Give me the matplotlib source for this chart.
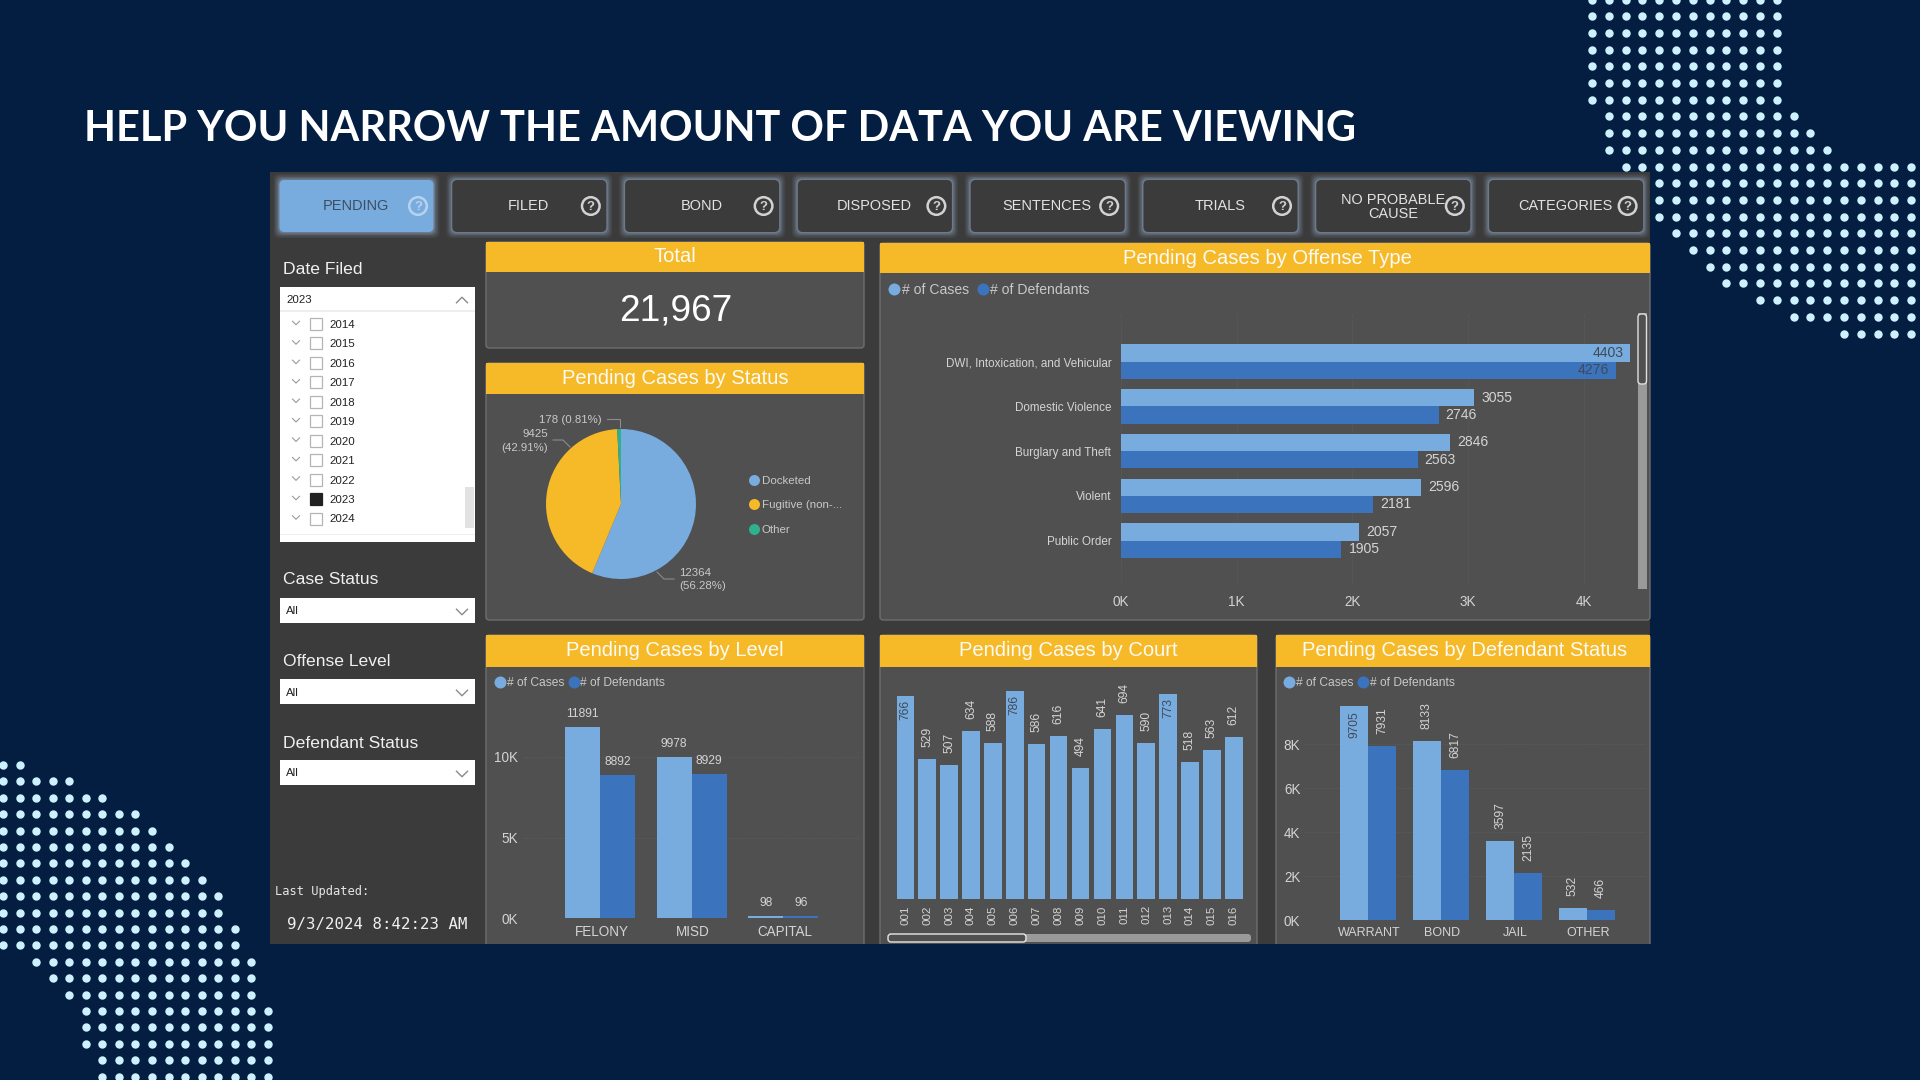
"""Pending cases dashboard slide, laid out in screen pixels."""
import matplotlib
matplotlib.use("Agg")
import matplotlib.pyplot as plt
from matplotlib.patches import FancyBboxPatch, Rectangle, Circle
from matplotlib.ticker import FuncFormatter

plt.rcParams["font.family"] = ["Liberation Sans", "DejaVu Sans"]

W, H = 1920, 1080

NAVY = "#041e42"
PANEL = "#3b3b3b"
CARD = "#505050"
EDGE = "#6e6e6e"
GOLD = "#f6b928"
LIGHT = "#78acdf"
DARK = "#3b74bd"
TEAL = "#2fb08e"
TXT = "#d4d4d4"
DOT = "#cdf1ff"
GRID = "#5e5e5e"

# data
BUTTONS = ["PENDING", "FILED", "BOND", "DISPOSED", "SENTENCES", "TRIALS",
           "NO PROBABLE\nCAUSE", "CATEGORIES"]
YEARS = ["2014", "2015", "2016", "2017", "2018", "2019", "2020", "2021",
         "2022", "2023", "2024"]
TOTAL = "21,967"

STATUS_NAMES = ["Docketed", "Fugitive (non-...", "Other"]
STATUS_VALUES = [12364, 9425, 178]

OFFENSES = ["DWI, Intoxication, and Vehicular", "Domestic Violence",
            "Burglary and Theft", "Violent", "Public Order"]
OFFENSE_CASES = [4403, 3055, 2846, 2596, 2057]
OFFENSE_DEFS = [4276, 2746, 2563, 2181, 1905]

LEVELS = ["FELONY", "MISD", "CAPITAL"]
LEVEL_CASES = [11891, 9978, 98]
LEVEL_DEFS = [8892, 8929, 96]

COURTS = ["001", "002", "003", "004", "005", "006", "007", "008", "009",
          "010", "011", "012", "013", "014", "015", "016"]
COURT_CASES = [766, 529, 507, 634, 588, 786, 586, 616, 494, 641, 694, 590,
               773, 518, 563, 612]

DEF_STATUS = ["WARRANT", "BOND", "JAIL", "OTHER"]
DEF_CASES = [9705, 8133, 3597, 532]
DEF_DEFS = [7931, 6817, 2135, 466]


def pt(px):
    return px * 0.72


fig = plt.figure(figsize=(W / 100, H / 100), dpi=100, facecolor=NAVY)
bg = fig.add_axes([0, 0, 1, 1], zorder=0)
bg.set_xlim(0, W)
bg.set_ylim(H, 0)
bg.axis("off")


def rect(x0, y0, x1, y1, color, z=3, **kw):
    bg.add_patch(Rectangle((x0, y0), x1 - x0, y1 - y0, facecolor=color,
                           edgecolor=kw.pop("edgecolor", "none"), zorder=z, **kw))


def label(x, y, s, px=14, color=TXT, ha="left", va="center", **kw):
    # va=center sits about a pixel high because of the descent
    return bg.text(x, y + 1, s, fontsize=pt(px), color=color, ha=ha, va=va, zorder=6, **kw)


def chart_ax(x0, y0, x1, y1):
    ax = fig.add_axes([x0 / W, 1 - y1 / H, (x1 - x0) / W, (y1 - y0) / H], zorder=2)
    ax.patch.set_visible(False)
    for s in ax.spines.values():
        s.set_visible(False)
    ax.tick_params(length=0)
    return ax


# ── corner dot patterns ────────────────────────────────────────────────
def dots(x0, dx, y0, dy, spans):
    xs, ys = [], []
    for r, (a, b) in enumerate(spans):
        for c in range(a, b + 1):
            xs.append(x0 + c * dx)
            ys.append(y0 + r * dy)
    bg.scatter(xs, ys, s=pt(8.4) ** 2, color=DOT, linewidths=0, zorder=1)


dots(1592, 16.8, -0.5, 16.7,
     [(0, 11)] * 7 + [(1, 12), (1, 13), (1, 14)] + [(2, 19)] + [(4, 19)] * 3
     + [(5, 19), (6, 19), (7, 19), (8, 19), (10, 19), (12, 19), (15, 19)])
dots(3, 16.55, 765, 16.4,
     [(0, 1), (0, 4), (0, 6), (0, 8), (0, 9), (0, 10), (0, 11), (0, 12), (0, 13),
      (0, 13), (0, 14), (0, 14), (2, 15), (3, 15), (4, 15), (5, 16), (5, 16),
      (5, 16), (6, 16), (6, 16)])

bg.text(84, 129, "HELP YOU NARROW THE AMOUNT OF DATA YOU ARE VIEWING",
        color="white", fontsize=pt(41.5), fontweight="bold", family="Lato",
        ha="left", va="center", zorder=6)

# ── dashboard frame and buttons ────────────────────────────────────────
rect(270, 172, 1650, 944, PANEL, z=2)

for i, name in enumerate(BUTTONS):
    left = 279.5 + i * 172.8
    active = i == 0
    for grow, alpha in [(6, 0.07), (4.5, 0.10), (3, 0.16), (1.5, 0.24)]:
        bg.add_patch(FancyBboxPatch((left - grow, 180 - grow), 154 + 2 * grow, 52 + 2 * grow,
                                    boxstyle="round,pad=0,rounding_size=6",
                                    facecolor="#a9c4e6", edgecolor="none", alpha=alpha, zorder=3))
    bg.add_patch(FancyBboxPatch((left, 180), 154, 52, boxstyle="round,pad=0,rounding_size=5",
                                facecolor=LIGHT if active else PANEL, edgecolor="none", zorder=4))
    fg = "#3d4e60" if active else "#e2e2e2"
    label(left + 76.5, 205.5, name, px=14.5, color=fg, ha="center", linespacing=1.0)
    icon = "#b9d2ec" if active else "#d2d2d2"
    bg.add_patch(Circle((left + 138.5, 206), 8.8, facecolor="none", edgecolor=icon, lw=1.8, zorder=5))
    label(left + 138.5, 205.5, "?", px=13, color=icon, ha="center", fontweight="bold")


# ── left filter column ─────────────────────────────────────────────────
def chevron(x, y, size, up=False, color="#8a8a8a", lw=1.0):
    d = -size / 2 if up else size / 2
    bg.plot([x - size, x, x + size], [y - d, y + d, y - d], color=color, lw=lw, zorder=6)


label(283, 269, "Date Filed", px=17.5, color="#f0f0f0")
rect(280, 287, 475, 542, "white")
rect(280, 310, 475, 312, "#eeeeee", z=4)
label(286, 299, "2023", px=11.5, color="#222222")
chevron(462, 300, 5.5, up=True)
for i, year in enumerate(YEARS):
    y = 324 + i * 19.45
    chevron(296, y - 1, 3.5, color="#9a9a9a", lw=0.8)
    filled = year == "2023"
    rect(310, y - 6, 322, y + 6, "#222222" if filled else "white", z=4,
         edgecolor="#222222" if filled else "#b5b5b5", lw=0.9)
    label(329.5, y, year, px=11.5, color="#222222")
rect(465, 487, 473.5, 528, "#e2e2e2", z=4)
rect(280, 533.5, 475, 534.5, "#eeeeee", z=4)

for title, ty, y0 in [("Case Status", 579, 598), ("Offense Level", 661, 679),
                      ("Defendant Status", 742, 760)]:
    label(283, ty, title, px=17.5, color="#f0f0f0")
    rect(280, y0, 475, y0 + 24.5, "white")
    label(286, y0 + 12.5, "All", px=11.5, color="#222222")
    chevron(462, y0 + 14, 5.5)

label(275, 891, "Last Updated:", px=12, color="#e6e6e6", family="DejaVu Sans Mono")
label(287, 923.5, "9/3/2024 8:42:23 AM", px=15.8, color="#f0f0f0", family="DejaVu Sans Mono")


# ── cards ──────────────────────────────────────────────────────────────
def card(x0, y0, x1, y1, head, title, open_bottom=False, title_dx=0):
    bg.add_patch(FancyBboxPatch((x0, y0), x1 - x0, y1 - y0, boxstyle="round,pad=0,rounding_size=3",
                                facecolor=CARD, edgecolor=EDGE, lw=1.0, zorder=3))
    if open_bottom:
        # the cards run off the bottom of the dashboard
        rect(x0 - 3, 944, x1 + 3, 955, NAVY, z=3.5)
    rect(x0, y0, x1, head, GOLD, z=4)
    label((x0 + x1) / 2 + title_dx, (y0 + head) / 2 - 1, title, px=20.2, color="#fbfbf5", ha="center")


def legend2(y, px, items):
    for dot_x, text_x, color, s in items:
        bg.scatter([dot_x], [y], s=pt(12) ** 2, color=color, linewidths=0, zorder=6)
        label(text_x, y, s, px=px, color="#c8c8c8")


card(486, 242, 864, 348, 272, "Total")
label(675.5, 310, TOTAL, px=37, color="white", ha="center")

card(486, 363, 864, 620, 394, "Pending Cases by Status")
card(880, 243, 1650, 620, 273, "Pending Cases by Offense Type", title_dx=2.5)
card(486, 635, 864, 950, 667, "Pending Cases by Level", open_bottom=True)
card(880, 635, 1257, 950, 667, "Pending Cases by Court", open_bottom=True)
card(1276, 635, 1650, 950, 667, "Pending Cases by Defendant Status", open_bottom=True, title_dx=2)

# ── pie ────────────────────────────────────────────────────────────────
ax = chart_ax(546, 429, 696, 579)
ax.pie(STATUS_VALUES, colors=[LIGHT, GOLD, TEAL], startangle=90, counterclock=False, radius=1.0)
ax.set_xlim(-1, 1)
ax.set_ylim(-1, 1)

share = [v / sum(STATUS_VALUES) * 100 for v in STATUS_VALUES]
label(602, 419, f"{STATUS_VALUES[2]} ({share[2]:.2f}%)", px=11.5, color="#c8c8c8", ha="right")
label(548, 433, f"{STATUS_VALUES[1]}", px=11.5, color="#c8c8c8", ha="right")
label(548, 447, f"({share[1]:.2f}%)", px=11.5, color="#c8c8c8", ha="right")
label(679, 572, f"{STATUS_VALUES[0]}", px=11.5, color="#c8c8c8")
label(679, 585, f"({share[0]:.2f}%)", px=11.5, color="#c8c8c8")
for xs, ys in [([607, 620, 620], [419, 419, 427]), ([553, 563, 570], [440, 440, 447]),
               ([674, 664, 657], [579, 579, 572])]:
    bg.plot(xs, ys, color="#8c8c8c", lw=0.8, zorder=6)
for y, color, s in zip([480, 504, 529], [LIGHT, GOLD, TEAL], STATUS_NAMES):
    bg.scatter([754], [y], s=pt(11) ** 2, color=color, linewidths=0, zorder=6)
    label(762, y, s, px=11.5, color="#c8c8c8")

# ── offense type ───────────────────────────────────────────────────────
legend2(289, 14, [(894, 902, LIGHT, "# of Cases"), (983, 990, DARK, "# of Defendants")])
ax = chart_ax(1121, 313, 1636, 586)
offense_pos = range(len(OFFENSES))
bar_h = 17.3 / 44.7
ax.set_ylim((586 - 361.7) / 44.7, (313 - 361.7) / 44.7)
ax.set_xlim(0, 515 / 115.7 * 1000)
ax.barh([p - bar_h / 2 for p in offense_pos], OFFENSE_CASES, height=bar_h, color=LIGHT)
ax.barh([p + bar_h / 2 for p in offense_pos], OFFENSE_DEFS, height=bar_h, color=DARK)
for p, c, d in zip(offense_pos, OFFENSE_CASES, OFFENSE_DEFS):
    for val, yy in [(c, p - bar_h / 2), (d, p + bar_h / 2)]:
        inside = val > 4000
        ax.annotate(str(val), (val, yy), xytext=(-7 if inside else 7, 0), textcoords="offset pixels",
                    ha="right" if inside else "left", va="center", fontsize=pt(14),
                    color="#3f4a58" if inside else TXT)
ax.set_yticks(list(offense_pos), OFFENSES, fontsize=pt(11.6), color=TXT)
ax.set_xticks([0, 1000, 2000, 3000, 4000])
ax.xaxis.set_major_formatter(FuncFormatter(lambda v, _: f"{v / 1000:.0f}K"))
ax.tick_params(axis="x", labelsize=pt(13.5), labelcolor=TXT, pad=6.3)
ax.tick_params(axis="y", pad=7)
ax.grid(axis="x", color=GRID, lw=0.7, ls=":")
ax.set_axisbelow(True)
rect(1638, 313, 1646.5, 589, "#9a9a9a", z=4)
bg.add_patch(FancyBboxPatch((1638, 314), 8.5, 70, boxstyle="round,pad=0,rounding_size=3",
                            facecolor=CARD, edgecolor="#e0e0e0", lw=1.0, zorder=5))


# ── vertical grouped bars ──────────────────────────────────────────────
def grouped(box, x_first, x_step, bar_w, y_scale, cats, cases, defs, yticks, pads):
    x0, y0, x1, y1 = box
    ax = chart_ax(x0, y0, x1, y1)
    ax.set_xlim((x0 - x_first) / x_step, (x1 - x_first) / x_step)
    ax.set_ylim(0, (y1 - y0) / y_scale)
    w = bar_w / x_step
    pos = list(range(len(cats)))
    ax.bar([p - w / 2 for p in pos], cases, width=w, color=LIGHT)
    ax.bar([p + w / 2 for p in pos], defs, width=w, color=DARK)
    # labels sit a touch right of the bar pair in the source
    ax.set_xticks([p + 1.5 / x_step for p in pos], cats, fontsize=pt(13.5), color=TXT)
    ax.set_yticks(yticks)
    ax.yaxis.set_major_formatter(FuncFormatter(lambda v, _: f"{v / 1000:.0f}K"))
    ax.tick_params(axis="y", labelsize=pt(13.5), labelcolor=TXT, pad=pads)
    ax.tick_params(axis="x", pad=5)
    ax.grid(axis="y", color=GRID, lw=0.7, ls=":")
    ax.set_axisbelow(True)
    return ax, pos, w


# level
legend2(682, 12, [(500, 507, LIGHT, "# of Cases"), (573.5, 580, DARK, "# of Defendants")])
ax, pos, w = grouped((524, 700, 860, 918), 600, 91.6, 35, 0.0161, LEVELS, LEVEL_CASES, LEVEL_DEFS,
                     [0, 5000, 10000], 4.5)
for p, c, d in zip(pos, LEVEL_CASES, LEVEL_DEFS):
    for val, xx in [(c, p - w / 2), (d, p + w / 2)]:
        ax.annotate(str(val), (xx, val), xytext=(0, 7), textcoords="offset pixels",
                    ha="center", va="bottom", fontsize=pt(12), color=TXT)

# defendant status
legend2(682, 12, [(1289, 1296, LIGHT, "# of Cases"), (1363, 1370, DARK, "# of Defendants")])
ax, pos, w = grouped((1305, 692, 1646, 920), 1368, 73, 28, 0.022, DEF_STATUS, DEF_CASES, DEF_DEFS,
                     [0, 2000, 4000, 6000, 8000], 3.3)
ax.tick_params(axis="x", labelsize=pt(12.5))
for p, c, d in zip(pos, DEF_CASES, DEF_DEFS):
    for val, xx in [(c, p - w / 2), (d, p + w / 2)]:
        inside = val > 9000
        ax.annotate(str(val), (xx, val), xytext=(0, -5 if inside else 12), textcoords="offset pixels",
                    ha="center", va="top" if inside else "bottom", rotation=90, fontsize=pt(12),
                    color="#3f4a58" if inside else TXT)

# court
ax = chart_ax(888, 680, 1250, 899)
ax.set_xlim((888 - 905.25) / 21.9, (1250 - 905.25) / 21.9)
ax.set_ylim(0, 219 / 0.2646)
court_pos = list(range(len(COURTS)))
ax.bar(court_pos, COURT_CASES, width=17.5 / 21.9, color=LIGHT)
for p, val in zip(court_pos, COURT_CASES):
    inside = val > 750
    ax.annotate(str(val), (p, val), xytext=(0, -4 if inside else 12), textcoords="offset pixels",
                ha="center", va="top" if inside else "bottom", rotation=90, fontsize=pt(12),
                color="#3f4a58" if inside else TXT)
ax.set_xticks(court_pos, COURTS, rotation=90, fontsize=pt(11.5), color=TXT)
ax.set_yticks([])
ax.tick_params(axis="x", pad=4.5)
bg.add_patch(FancyBboxPatch((888, 934), 363, 8, boxstyle="round,pad=0,rounding_size=3",
                            facecolor="#9a9a9a", edgecolor="none", zorder=4))
bg.add_patch(FancyBboxPatch((888, 934), 138, 8, boxstyle="round,pad=0,rounding_size=3",
                            facecolor=CARD, edgecolor="#e8e8e8", lw=1.0, zorder=5))

fig.savefig("out.png", dpi=100, facecolor=NAVY)
